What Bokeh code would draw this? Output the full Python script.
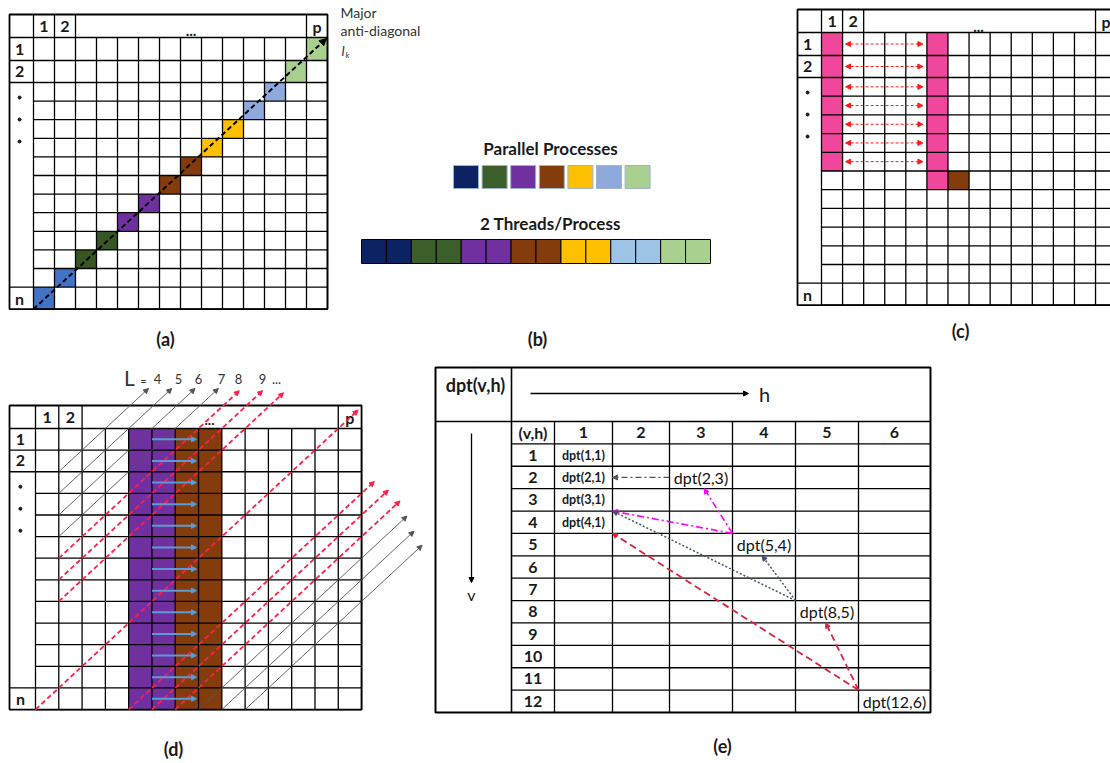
import numpy as np
from bokeh.plotting import figure
from bokeh.models import Range1d, Arrow, NormalHead, ColumnDataSource
from bokeh.core.properties import value
from bokeh.embed import file_html
from bokeh.resources import INLINE

# ---------------- data ----------------
panel_labels = ["(a)", "(b)", "(c)", "(d)", "(e)"]
process_colors_a = ["#4472C4", "#375623", "#7030A0", "#843C0C", "#FFC000", "#8EA9DB", "#A9D08E"]
process_colors_b = ["#0B2363", "#3B5E2B", "#7030A0", "#843C0C", "#FFC000", "#8EA9DB", "#A9D08E"]
thread_colors = ["#0B2363", "#3B5E2B", "#7030A0", "#843C0C", "#FFC000", "#9DC3E6", "#A9D08E"]
threads_per_process = 2
n_cols = 14
n_rows_ac = 14
n_rows_d = 13
header_labels = ["1", "2", "...", "p"]
row_labels = ["1", "2", "n"]
c_pink_cols = [0, 5]
c_pink_rows = [7, 8]
c_brown_cell = (7, 6)          # (row, col)
c_exchange_rows = 7
d_thread_cols = [4, 5, 6, 7]
d_thread_colors = ["#7030A0", "#7030A0", "#843C0C", "#843C0C"]
L_values = ["4", "5", "6", "7", "8", "9", "..."]
# d-panel diagonals: (start col edge, start row edge, length in cells)
d_black_upper = [(1, 2, 3.85), (1, 3, 4.85), (1, 4, 5.85), (1, 5, 6.85)]
d_red_upper = [(1, 6, 7.75), (1, 7, 8.75), (1, 8, 9.65)]
d_red_long = [(0, 13, 13.85)]
d_red_lower = [(4, 13, 10.55), (5, 13, 10.15), (6, 13, 9.65)]
d_black_lower = [(7, 13, 8.95), (8, 13, 8.25), (9, 13, 7.6)]
e_col_labels = ["1", "2", "3", "4", "5", "6"]
e_row_labels = [str(i) for i in range(1, 13)]
e_small_cells = [(1, 1), (2, 1), (3, 1), (4, 1)]
e_big_cells = [(2, 3), (5, 4), (8, 5), (12, 6)]
# e-panel dependency arrows: (from col-edge, from row-edge, to col-edge, to row-edge)
e_grey = [(2, 1.5, 1, 1.5)]
e_magenta = [(3, 4, 2.55, 2), (3, 4, 1, 3)]
e_slate = [(4, 7, 1, 3), (4, 7, 3.47, 5)]
e_red = [(5, 11, 1, 4), (5, 11, 4.48, 8)]

FONT = "Lato"
INK = "#1a1a1a"

W, H = 1110, 763
p = figure(width=W, height=H, x_range=Range1d(0, W), y_range=Range1d(H, 0),
           x_axis_location=None, y_axis_location=None, output_backend="svg",
           toolbar_location=None, min_border=0, outline_line_color=None)
p.grid.grid_line_color = None
p.background_fill_color = "white"


def txt(xs, ys, texts, size=13, bold=True, color=INK, align="center", baseline="middle", italic=False):
    style = ("bold " if bold else "") + ("italic" if italic else "")
    style = style.strip() or "normal"
    p.text(x=xs, y=ys, text=texts, text_font=value(FONT), text_font_size=f"{size}px",
           text_font_style=style, text_color=color, text_align=align, text_baseline=baseline)


def arrows(segs, color, width=1.2, dash="solid", head=6, both=False):
    x0 = [s[0] for s in segs]; y0 = [s[1] for s in segs]
    x1 = [s[2] for s in segs]; y1 = [s[3] for s in segs]
    src = ColumnDataSource(dict(x0=x0, y0=y0, x1=x1, y1=y1))
    kw = {}
    if both:
        kw["start"] = NormalHead(size=head, fill_color=color, line_color=color, line_width=1)
    p.add_layout(Arrow(end=NormalHead(size=head, fill_color=color, line_color=color, line_width=1),
                       x_start="x0", y_start="y0", x_end="x1", y_end="y1", source=src,
                       line_color=color, line_width=width, line_dash=dash, **kw))


def matrix_edges(x0, lab_w, cw, ncol, y0, hh, row_hs):
    xe = [x0 + lab_w + i * cw for i in range(ncol + 1)]
    ye = list(np.cumsum([y0 + hh] + list(row_hs)))
    return xe, ye


def draw_matrix(x0, y0, xe, ye, head_v_idx, lab_h_idx, lw=1.3):
    top, bottom, right = y0, ye[-1], xe[-1]
    sx0, sy0, sx1, sy1 = [], [], [], []
    for i, x in enumerate(xe):
        sx0.append(x); sx1.append(x)
        sy0.append(top if i in head_v_idx else ye[0]); sy1.append(bottom)
    for j, y in enumerate(ye):
        sx0.append(x0 if j in lab_h_idx else xe[0]); sx1.append(right)
        sy0.append(y); sy1.append(y)
    p.segment(sx0, sy0, sx1, sy1, line_color="black", line_width=lw)
    p.quad(left=[x0], right=[right], top=[top], bottom=[bottom], fill_color=None,
           line_color="black", line_width=1.8)


def matrix_labels(x0, y0, xe, ye, lab_w, size=16):
    cx = [(xe[0] + xe[1]) / 2, (xe[1] + xe[2]) / 2]
    hy = (y0 + ye[0]) / 2
    txt(cx, [hy, hy], header_labels[:2], size=size)
    txt([(xe[-2] + xe[-1]) / 2], [hy], [header_labels[3]], size=size)
    lx = x0 + lab_w * 0.42
    txt([lx, lx, lx], [(ye[0] + ye[1]) / 2, (ye[1] + ye[2]) / 2, (ye[-2] + ye[-1]) / 2],
        row_labels, size=size)
    dots_y = [ye[2] + 15 + 22 * k for k in range(3)]
    p.scatter([lx] * 3, dots_y, size=3, color=INK)


# ---------------- panel (a) ----------------
ax0, ay0 = 9, 14
a_rows = [23, 22] + [18.6] * 11 + [22]
axe, aye = matrix_edges(ax0, 24, 21.0, n_cols, ay0, 23, a_rows)
for k in range(n_cols):
    r = n_rows_ac - 1 - k
    p.quad(left=[axe[k]], right=[axe[k + 1]], top=[aye[r]], bottom=[aye[r + 1]],
           fill_color=process_colors_a[k // threads_per_process], line_color=None)
draw_matrix(ax0, ay0, axe, aye, head_v_idx=[0, 1, 2, n_cols - 1], lab_h_idx=[0, 1, 2, n_rows_ac - 1])
matrix_labels(ax0, ay0, axe, aye, 24)
txt([(axe[2] + axe[-2]) / 2], [30], [header_labels[2]], size=15)
arrows([(axe[0], aye[-1], axe[-1] - 1, aye[0] + 1)], "black", width=2, dash="5 3", head=7)
txt([340, 340], [12, 30], ["Major", "anti-diagonal"], size=14, bold=False, color="#333333", align="left")
txt([341], [50], ["l"], size=14, bold=False, italic=True, color="#333333", align="left")
txt([345], [54], ["k"], size=8, bold=False, italic=True, color="#333333", align="left")

# ---------------- panel (b) ----------------
txt([550], [148], ["Parallel Processes"], size=17)
bx = [453 + i * 28.6 for i in range(len(process_colors_b))]
p.quad(left=bx, right=[x + 25 for x in bx], top=[165] * 7, bottom=[188] * 7,
       fill_color=process_colors_b, line_color="#9DB3D6", line_width=1)
txt([550], [223], ["2 Threads/Process"], size=17)
tcols = [c for c in thread_colors for _ in range(threads_per_process)]
tw = 349 / len(tcols)
tx = [361 + i * tw for i in range(len(tcols))]
p.quad(left=tx, right=[x + tw for x in tx], top=[239] * len(tcols), bottom=[263] * len(tcols),
       fill_color=tcols, line_color="black", line_width=1)

# ---------------- panel (c) ----------------
cx0, cy0 = 797, 9
c_rows = [23, 22] + [18.7] * 11 + [22]
cxe, cye = matrix_edges(cx0, 24, 21.08, n_cols, cy0, 23, c_rows)
for col, nr in zip(c_pink_cols, c_pink_rows):
    p.quad(left=[cxe[col]], right=[cxe[col + 1]], top=[cye[0]], bottom=[cye[nr]],
           fill_color="#F0469B", line_color=None)
br, bc = c_brown_cell
p.quad(left=[cxe[bc]], right=[cxe[bc + 1]], top=[cye[br]], bottom=[cye[br + 1]],
       fill_color="#843C0C", line_color=None)
draw_matrix(cx0, cy0, cxe, cye, head_v_idx=[0, 1, 2, n_cols - 1], lab_h_idx=[0, 1, 2, n_rows_ac - 1])
matrix_labels(cx0, cy0, cxe, cye, 24)
txt([978], [26], [header_labels[2]], size=15)
ex = [(cxe[1] + 3, (cye[r] + cye[r + 1]) / 2, cxe[5] - 4, (cye[r] + cye[r + 1]) / 2)
      for r in range(c_exchange_rows)]
arrows(ex, "#FF1A1A", width=1, dash="3 2", head=5, both=True)

# ---------------- panel (d) ----------------
dx0, dy0 = 9, 405
dcw, drh = 23.29, 21.62
dxe, dye = matrix_edges(dx0, 26, dcw, n_cols, dy0, 23, [drh] * n_rows_d)
for col, colr in zip(d_thread_cols, d_thread_colors):
    p.quad(left=[dxe[col]], right=[dxe[col + 1]], top=[dye[0]], bottom=[dye[-1]],
           fill_color=colr, line_color=None)
draw_matrix(dx0, dy0, dxe, dye, head_v_idx=[0, 1, 2, n_cols - 1], lab_h_idx=[0, 1, 2, n_rows_d - 1])
matrix_labels(dx0, dy0, dxe, dye, 26)
txt([209], [419], [header_labels[2]], size=14)


def dpt(u, w):
    return dxe[0] + u * dcw, dye[0] + w * drh


def diag(lst):
    out = []
    for u, w, L in lst:
        xa, ya = dpt(u, w)
        xb, yb = dpt(u + L, w - L)
        out.append((xa, ya, xb, yb))
    return out


arrows(diag(d_black_upper), "#555555", width=0.9, head=5)
arrows(diag(d_black_lower), "#555555", width=0.9, head=5)
arrows(diag(d_red_upper + d_red_long + d_red_lower), "#FF1F4B", width=1.8, dash="5 3", head=5)
blue = [(dxe[5], (dye[r] + dye[r + 1]) / 2, dxe[7] - 2, (dye[r] + dye[r + 1]) / 2) for r in range(n_rows_d)]
arrows(blue, "#5B9BD5", width=2, head=5)
txt([129], [377], ["L"], size=21, bold=False, color="#333333")
txt([143], [380], ["="], size=11, bold=False, color="#333333")
txt([157, 178, 198, 221, 238, 262, 276], [378] * 7, L_values, size=13, bold=False, color="#333333")

# ---------------- panel (e) ----------------
ex0, ey0, ex1, ey1 = 435, 367, 930, 712
e_split_x, e_split_y = 511, 421
e_rowlab_w = 43
e_col_w = [58, 57, 63, 63, 63, 72]
eh = (ey1 - e_split_y) / (len(e_row_labels) + 1)
e_xe = list(np.cumsum([e_split_x + e_rowlab_w] + e_col_w))
e_ye = [e_split_y + eh * (k + 1) for k in range(len(e_row_labels) + 1)]
sx0 = [x for x in e_xe[:-1]]; sy0 = [e_split_y] * len(sx0); sx1 = sx0; sy1 = [ey1] * len(sx0)
hx0 = [e_split_x] * (len(e_ye) - 1); hy = e_ye[:-1]; hx1 = [ex1] * len(hx0)
p.segment(sx0 + hx0, sy0 + hy, sx1 + hx1, sy1 + hy, line_color="black", line_width=1.3)
p.segment([e_split_x, ex0], [ey0, e_split_y], [e_split_x, ex1], [ey1, e_split_y], line_color="black", line_width=1.6)
p.quad(left=[ex0], right=[ex1], top=[ey0], bottom=[ey1], fill_color=None, line_color="black", line_width=2)

txt([475], [384], ["dpt(v,h)"], size=18)
arrows([(530, 393, 748, 393)], "black", width=1.3, head=5)
txt([764], [393], ["h"], size=20, bold=False)
arrows([(471, 433, 471, 582)], "black", width=1.3, head=5)
txt([471], [594], ["v"], size=16, bold=False)

hx = [(e_xe[i] + e_xe[i + 1]) / 2 for i in range(6)]
hyc = (e_split_y + e_ye[0]) / 2
txt([(e_split_x + e_xe[0]) / 2] + hx, [hyc] * 7, ["(v,h)"] + e_col_labels, size=16)
ry = [(e_ye[k] + e_ye[k + 1]) / 2 for k in range(12)]
txt([(e_split_x + e_xe[0]) / 2] * 12, ry, e_row_labels, size=16)
txt([hx[c - 1] for r, c in e_small_cells], [ry[r - 1] for r, c in e_small_cells],
    [f"dpt({r},{c})" for r, c in e_small_cells], size=12.5)
txt([hx[c - 1] for r, c in e_big_cells], [ry[r - 1] for r, c in e_big_cells],
    [f"dpt({r},{c})" for r, c in e_big_cells], size=16, bold=False, color="#111111")


def ept(ci, ri):
    i = int(ci); f = ci - i
    x = e_xe[i] + f * (e_xe[i + 1] - e_xe[i]) if f > 0 else e_xe[i]
    return x, e_ye[0] + ri * eh


def eseg(lst):
    out = []
    for a, b, c, d in lst:
        x0, y0 = ept(a, b); x1, y1 = ept(c, d)
        out.append((x0, y0, x1, y1))
    return out


arrows(eseg(e_grey), "#555555", width=1.3, dash="6 3 2 3", head=5)
arrows(eseg(e_magenta), "#FF00FF", width=1.6, dash="7 3 2 3", head=5)
arrows(eseg(e_slate), "#44546A", width=1.5, dash="2 2", head=5)
arrows(eseg(e_red), "#D9243C", width=1.8, dash="7 4", head=5)

# ---------------- panel captions ----------------
txt([165, 537, 960, 173, 722], [338, 338, 330, 748, 745], panel_labels, size=18)

open("out.html", "w").write(file_html(p, INLINE))
